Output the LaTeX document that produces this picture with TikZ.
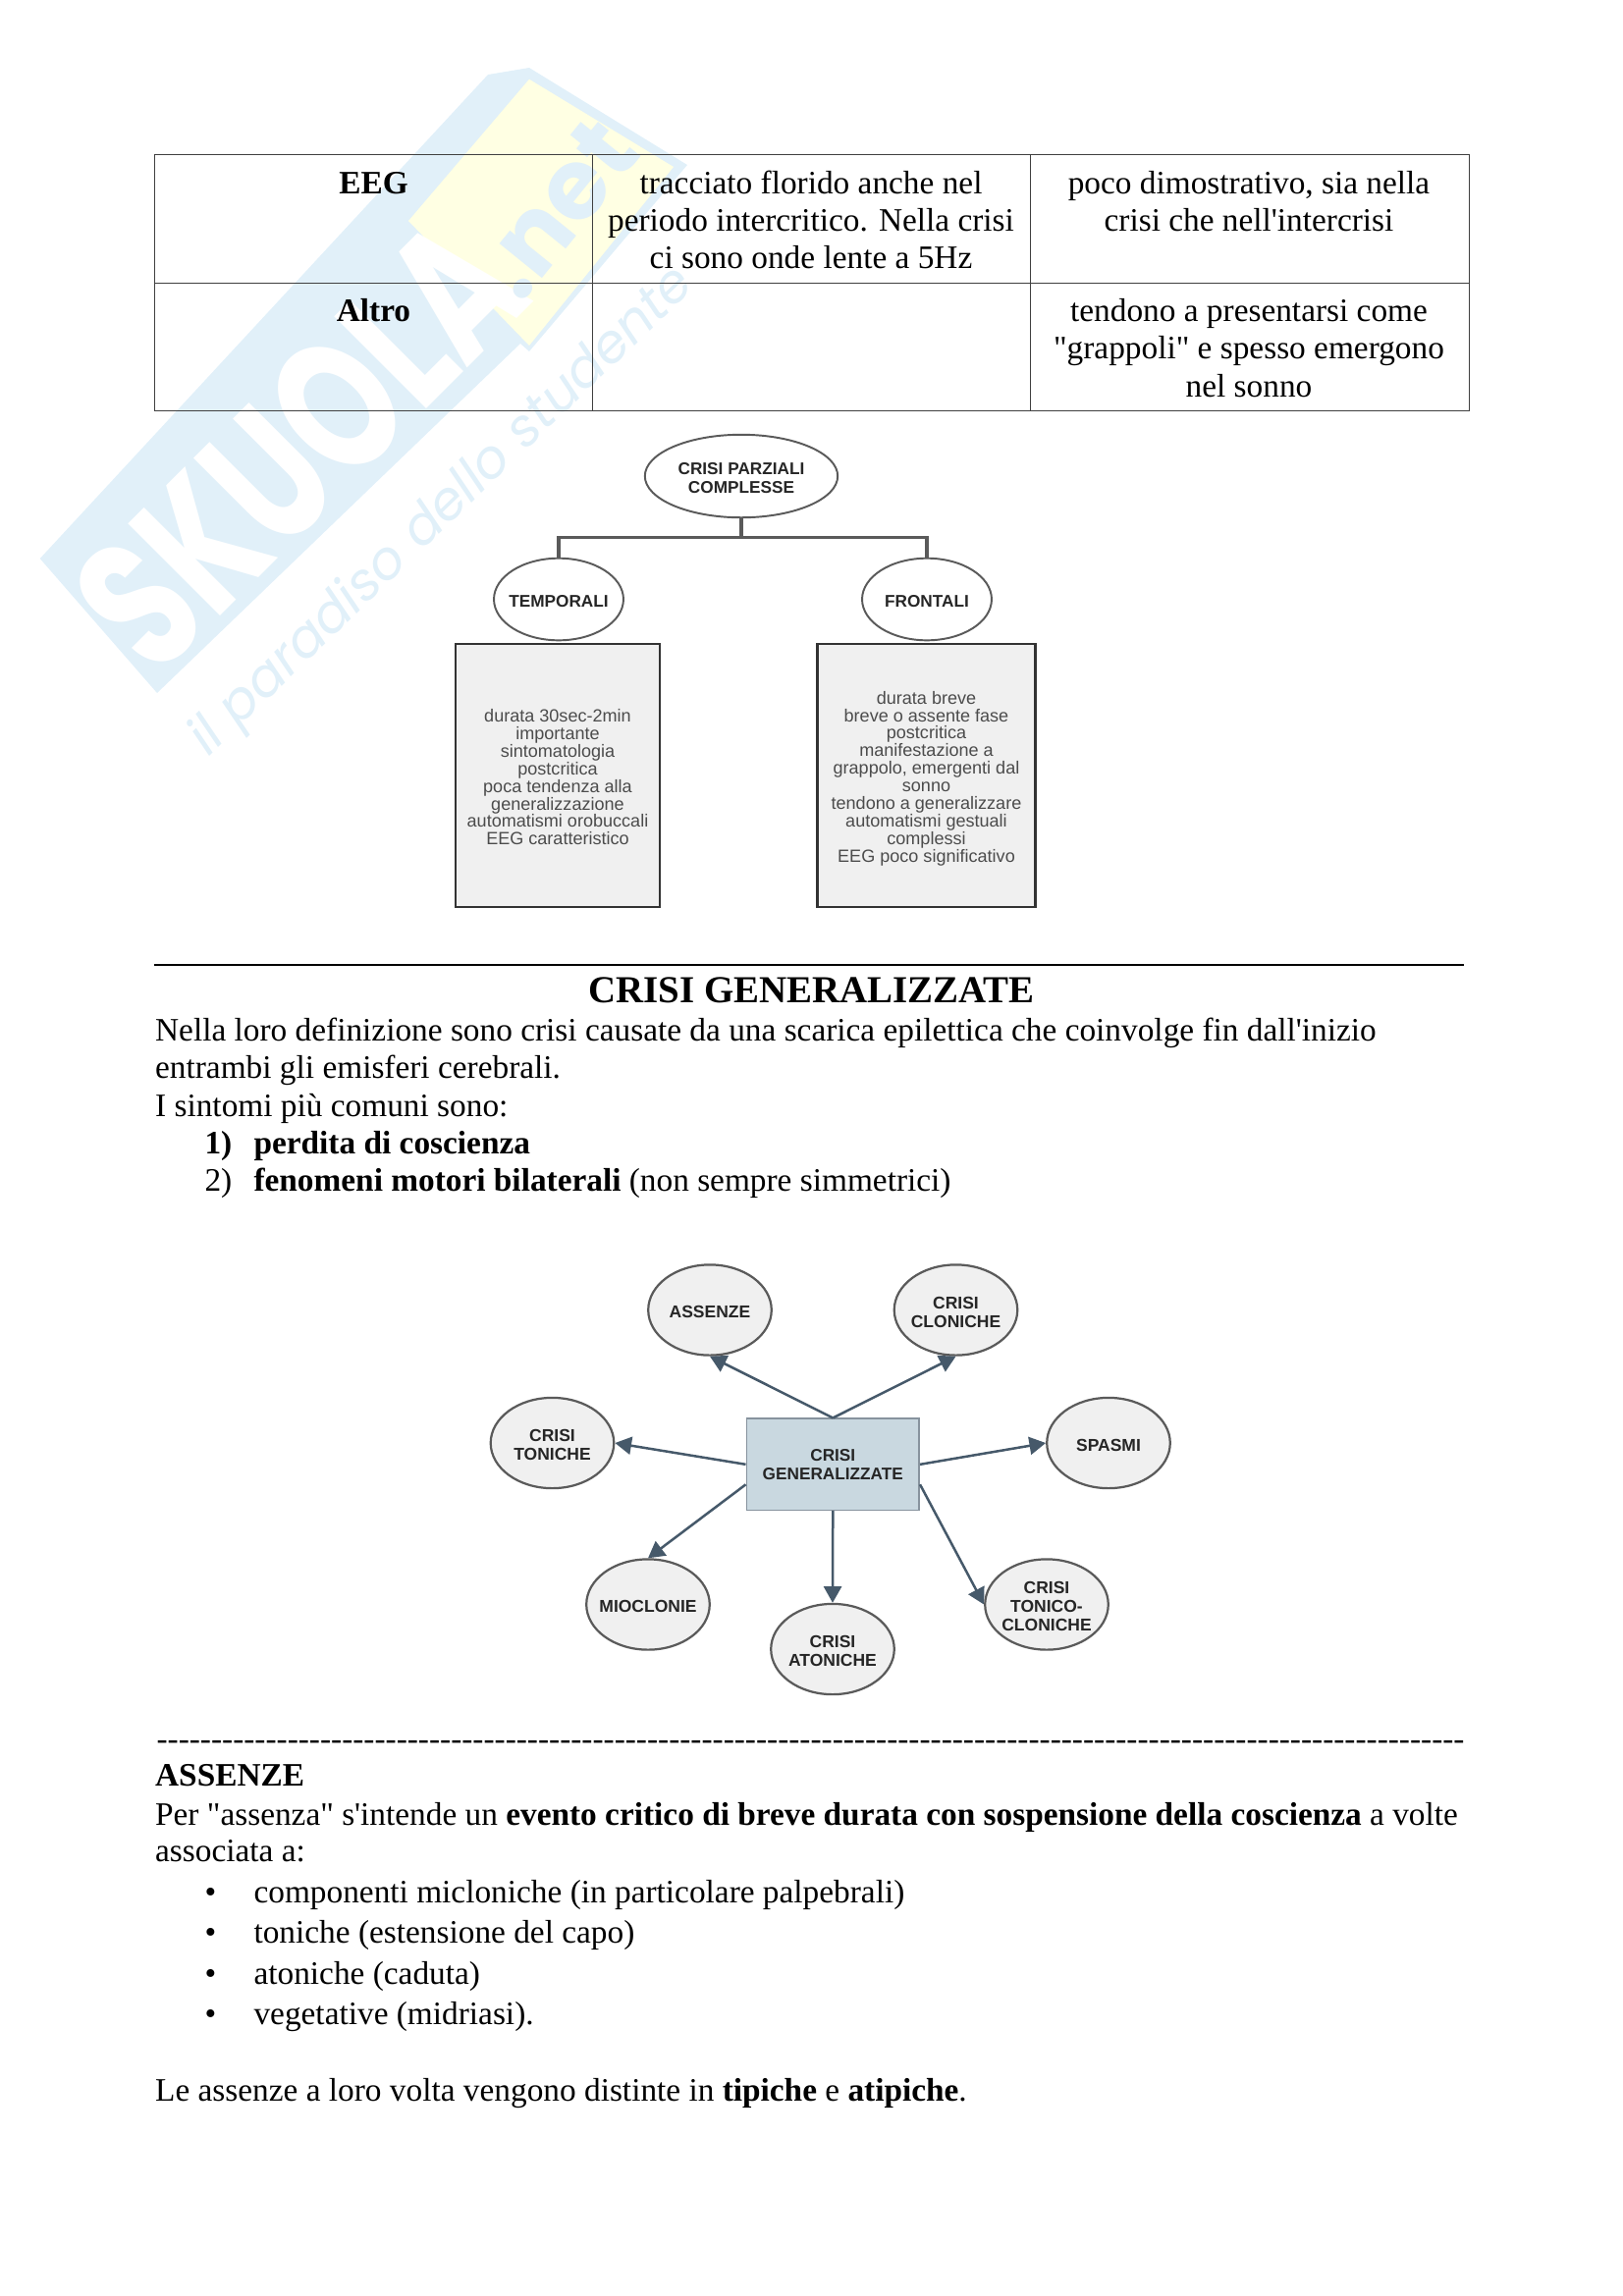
\documentclass[tikz,border=0pt]{standalone}
\usepackage{fontspec}
\usepackage{graphicx}
\setmainfont{Liberation Serif}
\newfontfamily\plainserif{Liberation Serif}
\newfontfamily\arial{Liberation Sans}
\newfontfamily\wmfont{Poppins}
\usetikzlibrary{shapes.geometric,arrows.meta}
\definecolor{wblue}{HTML}{E1F0F9}
\definecolor{wyellow}{HTML}{FFFFE3}
\definecolor{wtext}{HTML}{E1F0F9}
\definecolor{slate}{HTML}{46596A}
\definecolor{edgegrey}{HTML}{5A5A5A}
\definecolor{HubFill}{HTML}{C9D8E0}
\tikzset{
  x=0.36pt,y=-0.36pt,
  line/.style={anchor=base west,inner sep=0,font=\plainserif\fontsize{12}{13.8}\selectfont},
  cell/.style={anchor=base,inner sep=0,font=\plainserif\fontsize{12}{13.8}\selectfont},
  tbl/.style={draw=black!75,line width=0.35pt},
  oval/.style={ellipse,draw=edgegrey,line width=0.7pt,fill=white,inner sep=0,inner xsep=-4pt,align=center,
    font=\arial\bfseries\fontsize{6.2}{7}\selectfont,text=black!85},
  infobox/.style={rectangle,draw=black!80,line width=0.9pt,fill=black!6,inner sep=0,align=center,
    font=\arial\fontsize{6.5}{6.45}\selectfont,text=black!70},
  circ/.style={ellipse,draw=edgegrey,line width=0.8pt,fill=black!6,inner sep=0,inner xsep=-5pt,align=center,
    minimum width=45.2pt,minimum height=33.2pt,
    font=\arial\bfseries\fontsize{6.3}{6.9}\selectfont,text=black!85},
  ctr/.style={rectangle,draw=slate!65,line width=0.6pt,fill=HubFill,inner sep=0,align=center,
    minimum width=63.3pt,minimum height=33.5pt,
    font=\arial\bfseries\fontsize{6.2}{6.9}\selectfont,text=black!85},
  tree/.style={draw=edgegrey,line width=1.1pt},
  arr/.style={draw=slate,line width=0.9pt,-{Triangle[length=6pt,width=6.5pt]}}
}
\begin{document}
\begin{tikzpicture}
\useasboundingbox (0,0) rectangle (1653,2339);
% watermark
\fill[wblue] (40.7,569) -- (497,76) -- (539,69) -- (700,168) -- (539,358) -- (530,350) -- (160,706) -- cycle;
\fill[wyellow] (539,80.7) -- (686,170) -- (539,352) -- (416,225) -- cycle;
\node[rotate=45,inner sep=0,text=white,font=\wmfont\bfseries\fontsize{68}{68}\selectfont] (wmA) at (305,452) {\scalebox{0.72}[1]{SKUOLA}};
\node[rotate=51,inner sep=0,text=wblue,font=\wmfont\bfseries\fontsize{36}{36}\selectfont] (wmB) at (566,212) {.net};
\node[rotate=44,inner sep=0,text=wtext,font=\wmfont\itshape\fontsize{19.5}{20}\selectfont] (wmC) at (451,522) {il paradiso dello studente};
% table
\draw[tbl] (157.5,157.6) rectangle (1496,418.6);
\draw[tbl] (157.5,288.3) -- (1496,288.3);
\draw[tbl] (603.6,157.6) -- (603.6,418.6);
\draw[tbl] (1049,157.6) -- (1049,418.6);
\node[cell,font=\plainserif\bfseries\fontsize{12}{13.8}\selectfont] (t1) at (380.5,197) {EEG};
\node[cell] (t2) at (826,197) {tracciato florido anche nel};
\node[cell] (t3) at (826,235) {periodo intercritico. Nella crisi};
\node[cell] (t4) at (826,273) {ci sono onde lente a 5Hz};
\node[cell] (t5) at (1272,197) {poco dimostrativo, sia nella};
\node[cell] (t6) at (1272,235) {crisi che nell'intercrisi};
\node[cell,font=\plainserif\bfseries\fontsize{12}{13.8}\selectfont] (t7) at (380.5,327) {Altro};
\node[cell] (t8) at (1272,327) {tendono a presentarsi come};
\node[cell] (t9) at (1272,365) {"grappoli" e spesso emergono};
\node[cell] (t10) at (1272,404.5) {nel sonno};
% tree diagram
\coordinate (jn) at (755,547.8);
\node[oval,minimum width=70.7pt,minimum height=30.4pt] (top) at (755,485) {\rule{0pt}{6pt}CRISI PARZIALI\\COMPLESSE};
\node[oval,minimum width=47.5pt,minimum height=30.1pt] (temp) at (569,610.5) {\rule{0pt}{6pt}TEMPORALI};
\node[oval,minimum width=47.5pt,minimum height=30.1pt] (fron) at (944,610.5) {\rule{0pt}{6pt}FRONTALI};
\draw[tree] (top.south) -- (jn) -| (temp.north);
\draw[tree] (jn) -| (fron.north);
\node[infobox,minimum width=75pt,minimum height=96.4pt] (boxT) at (568,789.9)
 {\rule{0pt}{6pt}durata 30sec-2min\\importante\\sintomatologia\\postcritica\\poca tendenza alla\\generalizzazione\\automatismi orobuccali\\EEG caratteristico};
\node[infobox,minimum width=79.8pt,minimum height=96.4pt] (boxF) at (943.5,789.9)
 {\rule{0pt}{7pt}durata breve\\breve o assente fase\\postcritica\\manifestazione a\\grappolo, emergenti dal\\sonno\\tendono a generalizzare\\automatismi gestuali\\complessi\\EEG poco significativo};
% section text
\draw[black,line width=0.75pt] (157,983) -- (1491,983);
\node[cell,font=\plainserif\bfseries\fontsize{14}{16}\selectfont] (h1) at (826.6,1021) {CRISI GENERALIZZATE};
\node[line] (p1) at (157.6,1060.3) {Nella loro definizione sono crisi causate da una scarica epilettica che coinvolge fin dall'inizio};
\node[line] (p2) at (157.6,1098.7) {entrambi gli emisferi cerebrali.};
\node[line] (p3) at (157.6,1137.8) {I sintomi più comuni sono:};
\node[line,font=\plainserif\bfseries\fontsize{12}{13.8}\selectfont] (n1) at (208,1175) {1)};
\node[line,font=\plainserif\bfseries\fontsize{12}{13.8}\selectfont] (p4) at (258,1175) {perdita di coscienza};
\node[line] (n2) at (208,1213) {2)};
\node[line] (p5) at (258,1213) {\textbf{fenomeni motori bilaterali} (non sempre simmetrici)};
% star diagram
\node[ctr] (g) at (848.3,1491.8) {CRISI\\GENERALIZZATE};
\node[circ] (ass) at (723,1334.5) {\rule{0pt}{6pt}ASSENZE};
\node[circ] (clo) at (973.5,1334.5) {\rule{0pt}{6pt}CRISI\\CLONICHE};
\node[circ] (ton) at (562.5,1470) {\rule{0pt}{6pt}CRISI\\TONICHE};
\node[circ] (spa) at (1129,1470) {\rule{0pt}{6pt}SPASMI};
\node[circ] (mio) at (660,1634.5) {\rule{0pt}{6pt}MIOCLONIE};
\node[circ] (ato) at (848,1680) {\rule{0pt}{6pt}CRISI\\ATONICHE};
\node[circ] (tcl) at (1066,1634.5) {\rule{0pt}{6pt}CRISI\\TONICO-\\CLONICHE};
\draw[arr] (g.north) -- (ass.south);
\draw[arr] (g.north) -- (clo.south);
\draw[arr] (g.west) -- (ton.east);
\draw[arr] (g.east) -- (spa.west);
\draw[arr] (g.193) -- (mio.north);
\draw[arr] (g.south) -- (ato.north);
\draw[arr] (g.-13) -- (tcl.west);
% lower text
\node[line] (dash) at (159,1782) {------------------------------------------------------------------------------------------------------------------------};
\node[line,font=\plainserif\bfseries\fontsize{12}{13.8}\selectfont] (h2) at (157.6,1819.4) {ASSENZE};
\node[line] (q1) at (157.6,1859) {Per "assenza" s'intende un \textbf{evento critico di breve durata con sospensione della coscienza} a volte};
\node[line] (q2) at (157.6,1896.8) {associata a:};
\node[line] (b1) at (208,1938.2) {•};
\node[line] (q3) at (258,1938.2) {componenti micloniche (in particolare palpebrali)};
\node[line] (b2) at (208,1979.5) {•};
\node[line] (q4) at (258,1979.5) {toniche (estensione del capo)};
\node[line] (b3) at (208,2021) {•};
\node[line] (q5) at (258,2021) {atoniche (caduta)};
\node[line] (b4) at (208,2062.2) {•};
\node[line] (q6) at (258,2062.2) {vegetative (midriasi).};
\node[line] (q7) at (157.6,2140.2) {Le assenze a loro volta vengono distinte in \textbf{tipiche} e \textbf{atipiche}.};
\end{tikzpicture}
\end{document}
